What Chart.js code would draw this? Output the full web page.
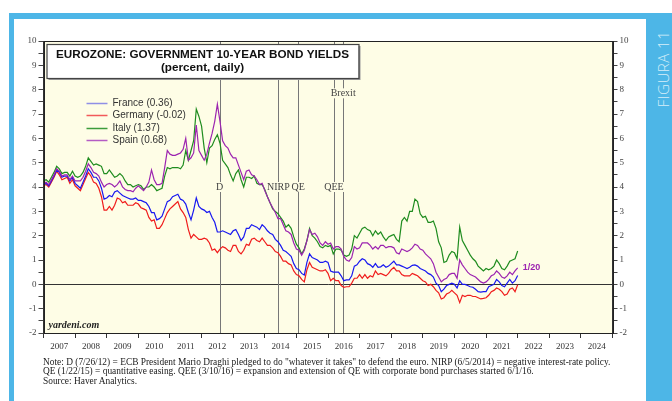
<!DOCTYPE html>
<html>
<head>
<meta charset="utf-8">
<script src="https://cdn.jsdelivr.net/npm/chart.js@4.4.0/dist/chart.umd.min.js"></script>
<style>
  html, body { margin: 0; padding: 0; background: #fff; }
  body { width: 672px; height: 401px; position: relative; overflow: hidden; }
  #frame { position: absolute; left: 9px; top: 13px; right: 0; bottom: 0; background: #4db6e7; }
  #panel { position: absolute; left: 14px; top: 19px; width: 632px; bottom: 0; background: #fff; }
  #figura { position: absolute; left: 663px; top: 69px; transform: translate(-50%, -50%) rotate(-90deg);
            color: #d6eef9; font: 300 15px 'Open Sans'; white-space: nowrap; letter-spacing: 0.5px; }
  #chart { position: absolute; left: 0; top: 0; }
  #note { position: absolute; left: 43px; top: 358px; font: 9.4px/9.4px 'Liberation Serif'; color: #1a1a1a; white-space: nowrap; }
</style>
</head>
<body>
<div id="frame"></div>
<div id="panel"></div>
<div id="figura">FIGURA 11</div>
<canvas id="chart" width="672" height="401"></canvas>
<div id="note">
  Note: D (7/26/12) = ECB President Mario Draghi pledged to do "whatever it takes" to defend the euro. NIRP (6/5/2014) = negative interest-rate policy.<br>
  QE (1/22/15) = quantitative easing. QEE (3/10/16) = expansion and extension of QE with corporate bond purchases started 6/1/16.<br>
  Source: Haver Analytics.
</div>
<script>
// Year labels on the x axis
const years = [2007, 2008, 2009, 2010, 2011, 2012, 2013, 2014, 2015, 2016, 2017, 2018, 2019, 2020, 2021, 2022, 2023, 2024];

// Monthly yields, Jan 2007 .. Jan 2022 (one row per year)
const france = [
  4.10, 4.15, 4.05, 4.25, 4.45, 4.70, 4.60, 4.40, 4.45, 4.45, 4.25, 4.40,
  4.15, 4.05, 3.95, 4.20, 4.45, 4.75, 4.60, 4.40, 4.40, 4.25, 3.95, 3.50,
  3.55, 3.65, 3.60, 3.80, 3.85, 3.75, 3.65, 3.60, 3.55, 3.50, 3.50, 3.55,
  3.45, 3.45, 3.40, 3.35, 3.20, 2.95, 2.95, 2.65, 2.70, 2.80, 3.10, 3.40,
  3.45, 3.60, 3.65, 3.70, 3.50, 3.45, 3.30, 2.95, 2.65, 3.05, 3.55, 3.20,
  3.10, 3.05, 2.95, 3.00, 2.75, 2.55, 2.15, 2.15, 2.20, 2.15, 2.10, 2.05,
  2.20, 2.25, 2.05, 1.80, 1.95, 2.30, 2.30, 2.45, 2.40, 2.35, 2.25, 2.45,
  2.35, 2.20, 2.10, 2.05, 1.85, 1.75, 1.60, 1.40, 1.35, 1.25, 1.15, 0.85,
  0.65, 0.60, 0.45, 0.38, 0.90, 1.25, 1.10, 1.05, 1.00, 0.90, 0.90, 0.95,
  0.90, 0.55, 0.50, 0.50, 0.50, 0.35, 0.15, 0.18, 0.18, 0.35, 0.75, 0.80,
  0.95, 1.05, 1.00, 0.85, 0.80, 0.70, 0.85, 0.70, 0.72, 0.80, 0.70, 0.75,
  0.85, 0.95, 0.80, 0.80, 0.75, 0.70, 0.65, 0.70, 0.78, 0.80, 0.75, 0.65,
  0.60, 0.55, 0.45, 0.40, 0.30, 0.05, -0.05, -0.30, -0.20, -0.05, 0.00, 0.05,
  0.00, -0.15, 0.15, 0.00, 0.00, -0.05, -0.10, -0.12, -0.20, -0.30, -0.32, -0.30,
  -0.30, -0.10, -0.05, 0.00, 0.20, 0.10, -0.05, -0.10, 0.05, 0.20, 0.05, 0.15,
  0.36
];
const germany = [
  4.05, 4.10, 4.00, 4.20, 4.40, 4.65, 4.50, 4.30, 4.35, 4.40, 4.15, 4.30,
  4.05, 3.95, 3.85, 4.10, 4.35, 4.60, 4.45, 4.20, 4.15, 3.95, 3.60, 3.05,
  3.05, 3.20, 3.05, 3.25, 3.55, 3.50, 3.35, 3.40, 3.25, 3.25, 3.25, 3.35,
  3.30, 3.15, 3.10, 3.05, 2.75, 2.60, 2.65, 2.30, 2.30, 2.45, 2.70, 2.95,
  3.10, 3.20, 3.30, 3.40, 3.10, 2.95, 2.75, 2.25, 1.90, 2.05, 1.95, 1.85,
  1.85, 1.90, 1.85, 1.70, 1.40, 1.45, 1.30, 1.45, 1.55, 1.50, 1.40, 1.35,
  1.60, 1.60, 1.35, 1.25, 1.40, 1.65, 1.60, 1.85, 1.90, 1.80, 1.75, 1.90,
  1.75, 1.60, 1.60, 1.50, 1.35, 1.30, 1.15, 0.95, 0.95, 0.85, 0.80, 0.55,
  0.40, 0.35, 0.20, 0.10, 0.60, 0.90, 0.70, 0.65, 0.60, 0.55, 0.55, 0.60,
  0.45, 0.15, 0.25, 0.15, 0.15, -0.05, -0.12, -0.10, -0.10, 0.05, 0.25, 0.25,
  0.40, 0.25, 0.40, 0.25, 0.35, 0.30, 0.55, 0.40, 0.45, 0.40, 0.35, 0.45,
  0.60, 0.70, 0.55, 0.55, 0.40, 0.35, 0.35, 0.35, 0.45, 0.40, 0.35, 0.25,
  0.15, 0.10, -0.05, 0.00, -0.10, -0.25, -0.35, -0.60, -0.55, -0.40, -0.35, -0.25,
  -0.35, -0.45, -0.75, -0.45, -0.50, -0.45, -0.45, -0.50, -0.50, -0.55, -0.60, -0.58,
  -0.55, -0.45, -0.30, -0.25, -0.15, -0.20, -0.30, -0.45, -0.40, -0.20, -0.15, -0.30,
  -0.02
];
const italy = [
  4.25, 4.30, 4.20, 4.40, 4.60, 4.85, 4.75, 4.55, 4.60, 4.60, 4.45, 4.65,
  4.45, 4.40, 4.45, 4.60, 4.85, 5.20, 5.05, 4.90, 4.95, 4.90, 4.85, 4.55,
  4.55, 4.70, 4.55, 4.40, 4.45, 4.55, 4.45, 4.25, 4.10, 4.10, 4.00, 4.05,
  4.10, 4.05, 3.90, 4.00, 4.00, 4.10, 4.00, 3.85, 3.90, 3.95, 4.45, 4.80,
  4.75, 4.80, 4.80, 4.80, 4.75, 4.90, 5.50, 5.10, 5.50, 5.90, 7.20, 6.90,
  6.50, 5.60, 5.00, 5.60, 5.70, 5.95, 6.15, 5.80, 5.10, 4.95, 4.80, 4.50,
  4.25, 4.55, 4.70, 4.30, 4.00, 4.40, 4.40, 4.35, 4.45, 4.15, 4.10, 4.10,
  3.90, 3.60, 3.35, 3.10, 3.00, 2.90, 2.75, 2.60, 2.35, 2.45, 2.30, 1.95,
  1.65, 1.50, 1.25, 1.45, 1.80, 2.30, 2.00, 1.90, 1.75, 1.55, 1.50, 1.60,
  1.55, 1.60, 1.25, 1.45, 1.45, 1.40, 1.20, 1.15, 1.20, 1.45, 2.00, 1.90,
  2.10, 2.30, 2.35, 2.25, 2.20, 2.00, 2.20, 2.05, 2.15, 1.95, 1.80, 1.95,
  2.00, 2.05, 1.85, 1.75, 2.60, 2.75, 2.60, 3.00, 3.00, 3.50, 3.40, 2.90,
  2.75, 2.80, 2.55, 2.55, 2.60, 2.30, 1.75, 1.50, 0.90, 0.95, 1.20, 1.35,
  1.30, 1.05, 2.35, 1.80, 1.60, 1.40, 1.20, 1.05, 0.95, 0.75, 0.65, 0.55,
  0.65, 0.60, 0.65, 0.75, 1.00, 0.85, 0.65, 0.60, 0.75, 0.95, 1.00, 1.05,
  1.37
];
const spain = [
  4.15, 4.20, 4.10, 4.30, 4.50, 4.75, 4.65, 4.45, 4.50, 4.50, 4.30, 4.45,
  4.25, 4.25, 4.25, 4.40, 4.65, 4.95, 4.80, 4.60, 4.55, 4.45, 4.20, 4.00,
  4.10, 4.15, 4.10, 4.00, 4.10, 4.25, 4.00, 3.90, 3.85, 3.85, 3.80, 3.95,
  4.05, 3.95, 3.85, 4.00, 4.20, 4.70, 4.30, 4.10, 4.10, 4.15, 4.80, 5.50,
  5.35, 5.30, 5.30, 5.35, 5.40, 5.55, 6.00, 5.10, 5.20, 5.40, 6.55, 5.50,
  5.30, 5.10, 5.35, 5.80, 6.20, 6.70, 7.40, 6.70, 5.90, 5.70, 5.60, 5.35,
  5.20, 5.20, 4.90, 4.60, 4.30, 4.65, 4.70, 4.50, 4.45, 4.30, 4.10, 4.15,
  3.85, 3.60, 3.35, 3.15, 2.95, 2.70, 2.70, 2.45, 2.20, 2.15, 2.05, 1.70,
  1.45, 1.40, 1.20, 1.40, 1.80, 2.25, 2.05, 2.10, 1.95, 1.70, 1.60, 1.75,
  1.65, 1.70, 1.45, 1.55, 1.55, 1.45, 1.15, 1.00, 0.95, 1.10, 1.55, 1.45,
  1.50, 1.70, 1.70, 1.70, 1.60, 1.45, 1.55, 1.45, 1.60, 1.60, 1.50, 1.55,
  1.55, 1.50, 1.30, 1.25, 1.45, 1.40, 1.35, 1.40, 1.50, 1.65, 1.60, 1.45,
  1.40, 1.25, 1.15, 1.05, 0.85, 0.50, 0.30, 0.10, 0.20, 0.25, 0.40, 0.45,
  0.45, 0.25, 1.00, 0.80, 0.65, 0.50, 0.40, 0.35, 0.30, 0.20, 0.10, 0.05,
  0.10, 0.20, 0.35, 0.40, 0.55, 0.45, 0.30, 0.25, 0.35, 0.50, 0.40, 0.55,
  0.68
];

// Policy events (decimal year) and their labels
const eventDates = [2012.57, 2014.43, 2015.06, 2016.19, 2016.48];
const eventLabels = ['D', 'NIRP', 'QE', 'QEE', 'Brexit'];

const seriesNames = ['France (0.36)', 'Germany (-0.02)', 'Italy (1.37)', 'Spain (0.68)'];
const seriesColors = ['#1818f0', '#f01c1c', '#1f8c1f', '#9c24b0'];
const legendColors = ['#8f8fe6', '#f25a5a', '#3c9c3c', '#b45cc4'];
const lastLabel = '1/20';

const plotBg = '#fefde6';
const serif = 'Liberation Serif';
const sans = 'Liberation Sans';

function toPoints(values) {
    return values.map((v, i) => ({ x: years[0] + i / 12, y: v }));
}

// half-step y ticks, labelled at whole numbers
const yTicks = [];
for (let v = -2; v <= 10; v += 0.5) yTicks.push(v);

function yAxis(pos) {
    return {
        type: 'linear',
        position: pos,
        min: -2,
        max: 10,
        afterBuildTicks: s => { s.ticks = yTicks.map(v => ({ value: v })); },
        afterFit: s => { s.width = pos === 'left' ? 30 : 34; },
        grid: {
            drawOnChartArea: pos === 'left',
            color: c => (c.tick && c.tick.value === 0) ? '#333' : 'rgba(0,0,0,0)',
            tickColor: '#444',
            tickLength: 5,
            lineWidth: 1
        },
        border: { display: true, color: '#333', width: 1 },
        ticks: {
            autoSkip: false,
            padding: 2,
            color: '#444',
            font: { family: serif, size: 9 },
            callback: v => Number.isInteger(v) ? String(v) : ''
        }
    };
}

const bgPlugin = {
    id: 'plotBg',
    beforeDraw(chart) {
        const { ctx, chartArea: a } = chart;
        ctx.save();
        ctx.fillStyle = plotBg;
        ctx.fillRect(a.left, a.top, a.right - a.left, a.bottom - a.top);
        ctx.restore();
    }
};

const eventsPlugin = {
    id: 'events',
    beforeDatasetsDraw(chart) {
        const { ctx, chartArea: a, scales } = chart;
        ctx.save();
        ctx.strokeStyle = '#777';
        ctx.lineWidth = 1;
        eventDates.forEach(d => {
            const x = Math.round(scales.x.getPixelForValue(d)) + 0.5;
            ctx.beginPath();
            ctx.moveTo(x, a.top);
            ctx.lineTo(x, a.bottom);
            ctx.stroke();
        });
        ctx.font = '10px ' + serif;
        ctx.textAlign = 'center';
        ctx.textBaseline = 'middle';
        eventLabels.forEach((lab, i) => {
            const x = scales.x.getPixelForValue(eventDates[i]);
            const y = scales.y.getPixelForValue(lab === 'Brexit' ? 7.85 : 4.0);
            const w = ctx.measureText(lab).width;
            ctx.fillStyle = plotBg;
            ctx.fillRect(x - w / 2 - 1, y - 5, w + 2, 10);
            ctx.fillStyle = '#444';
            ctx.fillText(lab, x, y + 0.5);
        });
        ctx.restore();
    }
};

const overlayPlugin = {
    id: 'overlay',
    afterDatasetsDraw(chart) {
        const { ctx, chartArea: a, scales } = chart;
        ctx.save();
        // plot frame
        ctx.strokeStyle = '#222';
        ctx.lineWidth = 1;
        ctx.strokeRect(Math.round(a.left) + 0.5, Math.round(a.top) + 0.5,
                       Math.round(a.right - a.left), Math.round(a.bottom - a.top));

        // title box
        const bx = a.left + 3, by = a.top + 3, bw = 312, bh = 34;
        ctx.fillStyle = '#999';
        ctx.fillRect(bx + 2, by + 2, bw, bh);
        ctx.fillStyle = '#fff';
        ctx.fillRect(bx, by, bw, bh);
        ctx.strokeStyle = '#444';
        ctx.lineWidth = 1.2;
        ctx.strokeRect(bx + 0.5, by + 0.5, bw, bh);
        ctx.fillStyle = '#111';
        ctx.textAlign = 'center';
        ctx.textBaseline = 'middle';
        ctx.font = 'bold 11.7px ' + sans;
        ctx.fillText('EUROZONE: GOVERNMENT 10-YEAR BOND YIELDS', bx + bw / 2, by + 11);
        ctx.fillText('(percent, daily)', bx + bw / 2, by + 23.5);

        // legend
        ctx.font = '10px ' + sans;
        ctx.textAlign = 'left';
        seriesNames.forEach((name, i) => {
            const y = Math.round(a.top + 62 + i * 12.4) + 0.5;
            ctx.strokeStyle = legendColors[i];
            ctx.lineWidth = 1.5;
            ctx.beginPath();
            ctx.moveTo(a.left + 43, y);
            ctx.lineTo(a.left + 64, y);
            ctx.stroke();
            ctx.fillStyle = '#333';
            ctx.fillText(name, a.left + 69, y);
        });

        // end label for Spain
        const lastX = years[0] + (spain.length - 1) / 12;
        ctx.fillStyle = seriesColors[3];
        ctx.font = 'bold 9px ' + sans;
        ctx.fillText(lastLabel, scales.x.getPixelForValue(lastX) + 5,
                     scales.y.getPixelForValue(spain[spain.length - 1]));

        // source mark
        ctx.fillStyle = '#222';
        ctx.font = 'italic bold 10px ' + serif;
        ctx.fillText('yardeni.com', a.left + 5, a.bottom - 8);
        ctx.restore();
    }
};

new Chart(document.getElementById('chart').getContext('2d'), {
    type: 'line',
    data: {
        datasets: [
            { label: seriesNames[0], data: toPoints(france), borderColor: seriesColors[0], order: 2 },
            { label: seriesNames[1], data: toPoints(germany), borderColor: seriesColors[1], order: 3 },
            { label: seriesNames[2], data: toPoints(italy), borderColor: seriesColors[2], order: 1 },
            { label: seriesNames[3], data: toPoints(spain), borderColor: seriesColors[3], order: 0 }
        ]
    },
    options: {
        responsive: false,
        animation: false,
        devicePixelRatio: 1,
        layout: { padding: { left: 13.5, right: 25.5, top: 41, bottom: 48 } },
        elements: {
            point: { radius: 0 },
            line: { borderWidth: 1.2, tension: 0, fill: false }
        },
        plugins: {
            legend: { display: false },
            tooltip: { enabled: false }
        },
        scales: {
            x: {
                type: 'linear',
                min: 2007,
                max: 2025,
                afterBuildTicks: s => {
                    const t = [];
                    years.forEach(y => { t.push({ value: y }); t.push({ value: y + 0.5 }); });
                    t.push({ value: 2025 });
                    s.ticks = t;
                },
                afterFit: s => { s.height = 20; },
                grid: {
                    drawOnChartArea: false,
                    tickLength: 5,
                    tickColor: c => Number.isInteger(c.tick.value) ? '#333' : 'rgba(0,0,0,0)'
                },
                border: { display: true, color: '#333', width: 1 },
                ticks: {
                    autoSkip: false,
                    maxRotation: 0,
                    padding: 3,
                    color: '#333',
                    font: { family: serif, size: 9 },
                    callback: v => Number.isInteger(v) ? '' : String(years[Math.floor(v) - years[0]])
                }
            },
            y: yAxis('left'),
            y2: yAxis('right')
        }
    },
    plugins: [bgPlugin, eventsPlugin, overlayPlugin]
});
</script>
</body>
</html>
